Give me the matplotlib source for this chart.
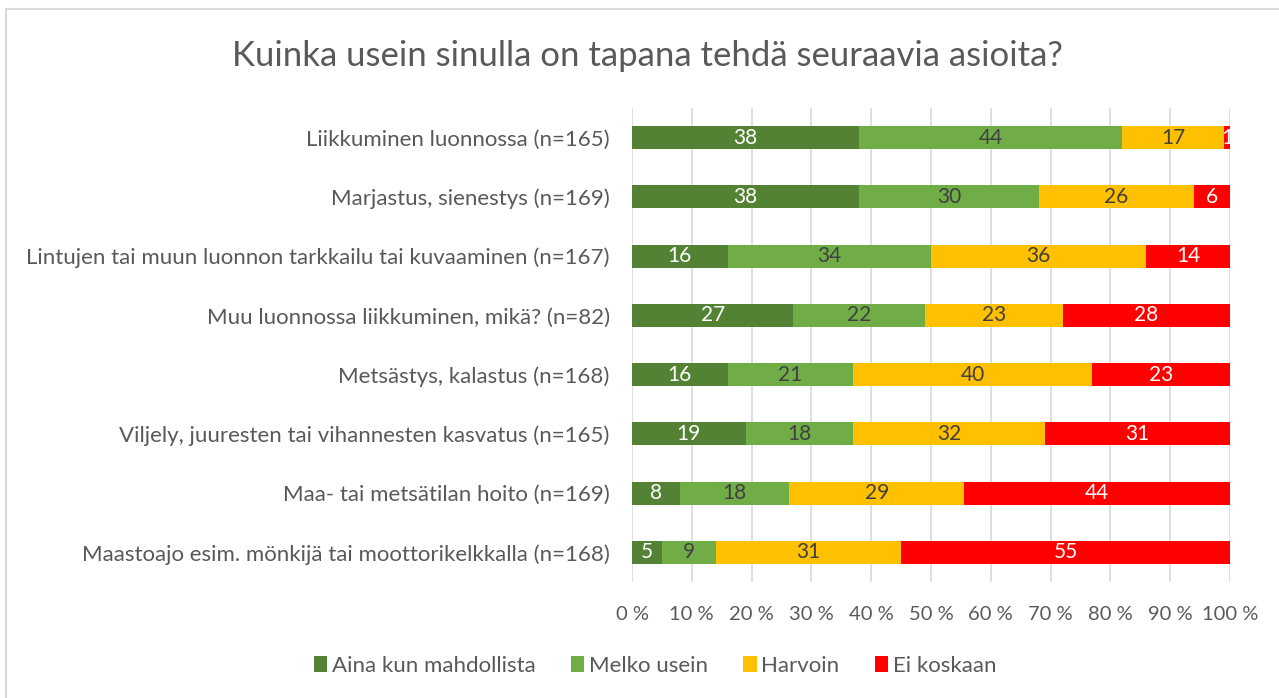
import matplotlib.pyplot as plt
import matplotlib.patches as patches
from matplotlib.ticker import FuncFormatter

plt.rcParams['font.family'] = ['Lato', 'DejaVu Sans']

# Data
categories = [
    'Liikkuminen luonnossa (n=165)',
    'Marjastus, sienestys (n=169)',
    'Lintujen tai muun luonnon tarkkailu tai kuvaaminen (n=167)',
    'Muu luonnossa liikkuminen, mikä? (n=82)',
    'Metsästys, kalastus (n=168)',
    'Viljely, juuresten tai vihannesten kasvatus (n=165)',
    'Maa- tai metsätilan hoito (n=169)',
    'Maastoajo esim. mönkijä tai moottorikelkkalla (n=168)',
]
aina = [38, 38, 16, 27, 16, 19, 8, 5]
melko = [44, 30, 34, 22, 21, 18, 18, 9]
harvoin = [17, 26, 36, 23, 40, 32, 29, 31]
ei_koskaan = [1, 6, 14, 28, 23, 31, 44, 55]

series = [
    ('Aina kun mahdollista', aina, '#548235', 'white'),
    ('Melko usein', melko, '#70AD47', '#404040'),
    ('Harvoin', harvoin, '#FFC000', '#404040'),
    ('Ei koskaan', ei_koskaan, '#FF0000', 'white'),
]

totals = [a + b + c + d for a, b, c, d in zip(aina, melko, harvoin, ei_koskaan)]

fig = plt.figure(figsize=(12.79, 6.98), dpi=100)
ax = fig.add_axes([632 / 1279, 116 / 698, 598 / 1279, 474 / 698])

# chart border
fig.patches.append(patches.Rectangle((6 / 1279, -0.1), 1.2, 0.1 + (698 - 9) / 698,
                                     transform=fig.transFigure, fill=False,
                                     edgecolor='#D9D9D9', linewidth=1.5))

y = list(range(len(categories)))
left = [0] * len(categories)
for name, vals, color, tcolor in series:
    widths = [v / t * 100 for v, t in zip(vals, totals)]
    bars = ax.barh(y, widths, left=left, height=0.39, color=color, label=name, zorder=3)
    for bar, v in zip(bars, vals):
        cx = bar.get_x() + bar.get_width() / 2
        cy = bar.get_y() + bar.get_height() / 2
        ax.text(cx, cy, str(v), ha='center', va='center', color=tcolor, fontsize=15, zorder=4)
    left = [l + w for l, w in zip(left, widths)]

ax.set_xlim(0, 100)
ax.set_ylim(len(categories) - 0.5, -0.5)
ax.set_xticks(range(0, 101, 10))
ax.xaxis.set_major_formatter(FuncFormatter(lambda v, p: f'{int(v)} %'))
ax.set_yticks(y)
ax.set_yticklabels(categories)
ax.tick_params(axis='both', length=0, colors='#595959')
ax.tick_params(axis='x', pad=17, labelsize=14.5)
ax.tick_params(axis='y', pad=16, labelsize=16)
ax.grid(axis='x', color='#D9D9D9', linewidth=1.2, zorder=0)
for s in ax.spines.values():
    s.set_visible(False)

fig.suptitle('Kuinka usein sinulla on tapana tehdä seuraavia asioita?',
             x=0.5 + 8 / 1279, y=1 - 56 / 698, va='center', fontsize=25, color='#595959')

ax.legend(loc='center', bbox_to_anchor=(655 / 1279, 32 / 698), bbox_transform=fig.transFigure,
          ncol=4, frameon=False, fontsize=16, labelcolor='#595959',
          handlelength=0.6, handleheight=0.7, handletextpad=0.2, columnspacing=1.6)

fig.savefig('out.png', dpi=100)
